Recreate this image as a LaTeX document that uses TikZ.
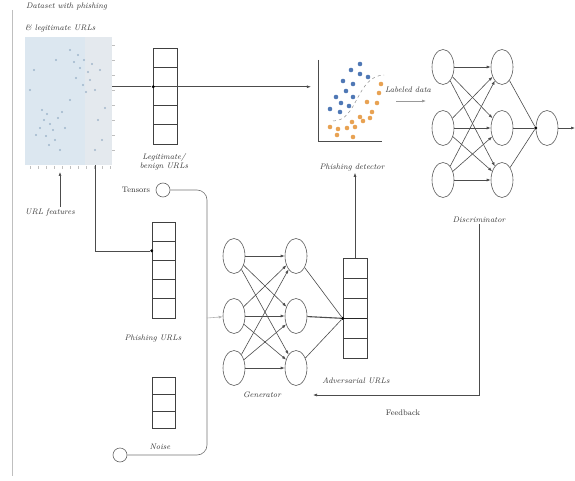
\documentclass[tikz,border=0pt]{standalone}
\usetikzlibrary{shapes.geometric,arrows.meta}
\definecolor{dsbg}{HTML}{DCE7F0}
\definecolor{dsbg2}{HTML}{E4E9EE}
\definecolor{dsdot}{HTML}{6F8FAE}
\definecolor{bdot}{HTML}{4F78B5}
\definecolor{odot}{HTML}{E8A253}
\begin{document}
\begin{tikzpicture}[x=1pt,y=-1pt,
  ln/.style={draw=black!70, line width=0.6pt},
  arr/.style={ln, -{Latex[length=4pt,width=3pt]}},
  neuron/.style={ellipse, draw=black!65, line width=0.6pt, minimum width=22pt, minimum height=35pt, inner sep=0pt},
  cellbox/.style={rectangle, draw=black!75, line width=0.7pt, minimum width=24pt, inner sep=0pt},
  lbl/.style={font=\fontsize{8}{9.5}\selectfont\itshape, text=black!80, inner sep=1pt},
  ulbl/.style={font=\fontsize{8}{9.5}\selectfont, text=black!80, inner sep=1pt},
  dotn/.style={circle, fill=black, inner sep=0pt, minimum size=3.2pt},
  port/.style={circle, draw=black!60, line width=0.6pt, minimum size=14pt, inner sep=0pt}
]
\useasboundingbox (0,0) rectangle (575,481);
% faint left border
\draw[black!25, line width=0.8pt] (12,10) -- (12,476);

% ---------- dataset ----------
\node[lbl, anchor=west] (dstitle1) at (25,7) {Dataset with phishing};
\node[lbl, anchor=west] (dstitle2) at (24,28) {\& legitimate URLs};
\node[fill=dsbg, minimum width=87pt, minimum height=128pt, inner sep=0pt] (data) at (68.5,101) {};
\fill[dsbg2] (85,37) rectangle (112,165);
\foreach \x/\y in {78/55,84/60,80/68,88/72,76/78,90/80,83/85,86/92,74/62,92/64,70/50,95/90,
                   42/110,47/114,44/120,50/124,40/128,53/130,46/136,55/140,49/145,58/118,36/135,
                   62/112,65/128,60/150,98/120,102/140,95/150,105/108,70/100,30/90,34/70,56/60,100/70}
  \fill[dsdot, opacity=0.55] (\x,\y) circle (1.1pt);
\foreach \x in {30,38,46,54,62,70,78,86,94,102,110}
  \draw[black!25, line width=0.5pt] (\x,166) -- (\x,169);
\foreach \y in {45,60,75,90,105,120,135,150}
  \draw[black!25, line width=0.5pt] (112,\y) -- (115,\y);

% URL features
\node[lbl] (urlf) at (50,212) {URL features};
\coordinate (datab) at (60,172);
\draw[arr] ([xshift=10pt]urlf.north) -- (datab);

% ---------- legitimate stack ----------
\foreach \i in {1,...,5}
  \node[cellbox, minimum height=19.2pt] (leg\i) at (165.5,{48+19.2*(\i-0.5)}) {};
\node[lbl, align=center] (leglbl) at (164,162) {Legitimate/\\benign URLs};
\node[dotn] (legdot) at (leg2.south west) {};

% ---------- phishing detector ----------
\node[minimum width=72pt, minimum height=81pt, inner sep=0pt] (det) at (347,100.5) {};
\draw[black!70, line width=0.8pt] (318,60) -- (318,141) -- (382,141);
\draw[black!45, dashed, line width=0.5pt] (333,121) .. controls (358,121) and (356,76) .. (384,75);
\foreach \x/\y in {360/64,351/70,360/74,368/77,343/81,353/84,346/91,336/97,353/97,341/103,349/106,330/109,340/112}
  \fill[bdot] (\x,\y) circle (2.3pt);
\foreach \x/\y in {381/84,379/93,367/102,377/103,372/112,360/117,363/121,352/122,330/127,338/129,347/128,355/127,337/135,353/137,370/118}
  \fill[odot] (\x,\y) circle (2.3pt);
\node[lbl] (detlbl) at (352,168) {Phishing detector};
\draw[ln] (data.east |- legdot) -- (legdot);
\draw[arr] (legdot) -- (det.west |- legdot);

% labeled data
\node[lbl] (ldlbl) at (408,90) {Labeled data};
\coordinate (ldA) at (396,101);
\coordinate (ldB) at (426,101);
\draw[arr, draw=black!40] (ldA) -- (ldB);

% ---------- discriminator ----------
\foreach \i/\y in {1/67,2/128,3/180} {
  \node[neuron] (di\i) at (443,\y) {};
  \node[neuron] (dh\i) at (502,\y) {};
}
\node[neuron] (dout) at (547,128) {};
\foreach \a in {1,2,3}
  \foreach \b in {1,2,3}
    \draw[arr] (di\a) -- (dh\b);
\node[dotn] (doutdot) at (dout.west) {};
\foreach \b in {1,2,3}
  \draw[ln] (dh\b) -- (doutdot);
\coordinate (outend) at (575,128);
\draw[arr] (dout) -- (outend);
\node[lbl] (disclbl) at (479,220) {Discriminator};

% ---------- phishing / noise stacks ----------
\foreach \i in {1,...,5}
  \node[cellbox, minimum width=23pt, minimum height=19.2pt] (ph\i) at (163.5,{222+19.2*(\i-0.5)}) {};
\node[lbl] (phlbl) at (153,339) {Phishing URLs};
\node[dotn] (phdot) at (ph2.west) {};
\draw[ln] ([xshift=26.5pt]data.south) |- (phdot);

\foreach \i in {1,2,3}
  \node[cellbox, minimum width=23pt, minimum height=17pt] (nz\i) at (163.5,{377+17*(\i-0.5)}) {};
\node[lbl] (nzlbl) at (160,447) {Noise};

% tensors loop
\node[ulbl] (tenslbl) at (136,190) {Tensors};
\node[port] (tens) at (163,190) {};
\node[port] (nzc) at (120,455) {};
\coordinate (loopx) at (207,318);
\draw[ln, draw=black!55, rounded corners=10pt] (tens.east) -| (loopx) |- (nzc.east);

% ---------- generator ----------
\foreach \i/\y in {1/256,2/316,3/368} {
  \node[neuron] (gi\i) at (234,\y) {};
  \node[neuron] (gh\i) at (296,\y) {};
}
\draw[arr, draw=black!30] (loopx) -- (gi2);
\foreach \a in {1,2,3}
  \foreach \b in {1,2,3}
    \draw[arr] (gi\a) -- (gh\b);
\node[lbl] (genlbl) at (262,395) {Generator};

% ---------- adversarial stack ----------
\foreach \i in {1,...,5}
  \node[cellbox, minimum height=20pt] (adv\i) at (355,{258+20*(\i-0.5)}) {};
\draw[black!85, line width=1.2pt] (adv3.south west) -- (adv3.south east);
\node[dotn] (advdot) at (adv3.south west) {};
\foreach \b in {1,3}
  \draw[ln] (gh\b) -- (advdot);
\draw[ln, line width=1.1pt] (gh2) -- (advdot);
\node[lbl] (advlbl) at (356,381) {Adversarial URLs};
\draw[arr] (adv1.north) -- (adv1.north |- detlbl.south);

% feedback
\coordinate (fbend) at (313,395);
\draw[arr] (disclbl.south) |- (fbend);
\node[ulbl] (fblbl) at (403,413) {Feedback};
\end{tikzpicture}
\end{document}
